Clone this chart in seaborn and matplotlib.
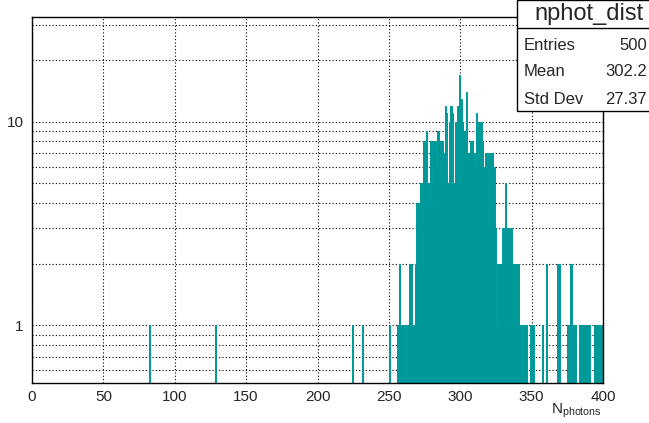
import matplotlib
matplotlib.use("Agg")
import matplotlib.pyplot as plt
import matplotlib.ticker as mticker
from matplotlib.patches import Rectangle
import numpy as np
import seaborn as sns

# lower edge of each non-empty 1-photon bin and its count
bin_lo = [82, 128, 224, 231, 250,
          256, 257, 258, 259, 260, 262, 263, 264, 265, 266, 267, 268,
          269, 270, 271, 272, 273,
          274, 275, 276, 277, 278, 279, 280, 281, 282, 283, 284, 285, 286, 287, 288, 289, 290, 291, 292,
          293, 294, 295, 296, 297, 298, 299, 300, 301, 302, 303, 304, 305, 306, 307, 308, 309, 310,
          311, 312, 313, 314, 315, 316, 317, 318, 319, 320, 321,
          322, 323, 324, 325, 326, 327, 328, 329, 330, 331, 332, 333, 334, 335,
          336, 337, 338, 339, 340, 341, 342, 344, 345, 346, 349, 350, 351, 357, 360, 368, 369,
          375, 376, 377, 378, 379, 380, 383, 384, 385, 386, 387, 388, 389, 390,
          394, 395, 396, 397, 398, 399]
counts = [1, 1, 1, 1, 1,
          1, 2, 1, 1, 1, 1, 1, 2, 2, 1, 1, 2,
          4, 4, 4, 5, 4,
          8, 8, 9, 5, 4, 8, 5, 8, 8, 6, 9, 8, 8, 8, 7, 12, 11, 5, 10,
          12, 11, 5, 10, 10, 12, 17, 13, 10, 9, 9, 14, 7, 7, 8, 8, 7, 6,
          11, 10, 8, 10, 8, 6, 7, 7, 7, 7, 7,
          7, 6, 3, 1, 2, 2, 2, 3, 3, 5, 3, 3, 3, 3,
          2, 2, 2, 1, 2, 1, 1, 1, 1, 1, 1, 1, 1, 1, 2, 2, 2,
          1, 1, 2, 1, 1, 1, 1, 1, 1, 1, 1, 1, 1, 1,
          1, 1, 1, 1, 1, 1]

hist_name = "nphot_dist"
stats_labels = ["Entries", "Mean", "Std Dev"]
stats_values = ["500", "302.2", "27.37"]

teal = "#009999"

sns.set_style("white")
plt.rcParams['font.family'] = ['Liberation Sans', 'DejaVu Sans']
plt.rcParams['mathtext.default'] = 'regular'

fig = plt.figure(figsize=(6.49, 4.23), dpi=100)
ax = fig.add_axes([32 / 649, 40 / 423, 571 / 649, 366 / 423])

centers = np.array(bin_lo) + 0.5
sns.histplot(x=centers, weights=counts, bins=400, binrange=(0, 400),
             color=teal, alpha=1, edgecolor=teal, linewidth=0.7, ax=ax, zorder=3)

ax.set_yscale('log')
ax.set_xlim(0, 400)
ax.set_ylim(0.52, 32.7)
ax.set_xlabel("")
ax.set_ylabel("")

# ticks, ROOT-style
ax.xaxis.set_major_locator(mticker.MultipleLocator(50))
ax.xaxis.set_minor_locator(mticker.MultipleLocator(10))
ax.yaxis.set_major_locator(mticker.FixedLocator([1, 10]))
ax.yaxis.set_major_formatter(mticker.FixedFormatter(["1", "10"]))
minor_y = [0.6, 0.7, 0.8, 0.9, 2, 3, 4, 5, 6, 7, 8, 9, 20, 30]
ax.yaxis.set_minor_locator(mticker.FixedLocator(minor_y))
ax.yaxis.set_minor_formatter(mticker.NullFormatter())
ax.tick_params(axis='x', which='major', direction='in', length=8.5, width=1, labelsize=11, pad=5)
ax.tick_params(axis='x', which='minor', direction='in', length=4.3, width=1)
ax.tick_params(axis='y', which='major', direction='in', length=13, width=1, labelsize=11, pad=6)
ax.tick_params(axis='y', which='minor', direction='in', length=6, width=1)
ax.tick_params(top=False, right=False, which='both')

# dotted grid at every tick
ax.set_axisbelow(True)
ax.grid(True, which='major', axis='x', color='black', linestyle=(0, (1, 2)), linewidth=0.8)
ax.grid(True, which='both', axis='y', color='black', linestyle=(0, (1, 2)), linewidth=0.8)

for s in ax.spines.values():
    s.set_color('black')
    s.set_linewidth(1)
    s.set_zorder(5)

fig.text(602 / 649, 1 - 411 / 423, r"N$_{photons}$", ha='right', va='center', fontsize=11)

# stats box
bx0, bx1 = 517 / 649, 1.02
by0, by1 = 1 - 111 / 423, 1.0
fig.add_artist(Rectangle((bx0, by0), bx1 - bx0, by1 - by0, transform=fig.transFigure,
                         facecolor='white', edgecolor='black', linewidth=1, zorder=10))
fig.add_artist(plt.Line2D([bx0, 1], [1 - 28 / 423] * 2, transform=fig.transFigure,
                          color='black', linewidth=1, zorder=11))
fig.text(589 / 649, 1 - 14 / 423, hist_name, ha='center', va='center', fontsize=17, zorder=12)
for i, (lab, val) in enumerate(zip(stats_labels, stats_values)):
    yy = 1 - (45 + 27 * i) / 423
    fig.text(524 / 649, yy, lab, ha='left', va='center', fontsize=12, zorder=12)
    fig.text(647 / 649, yy, val, ha='right', va='center', fontsize=12, zorder=12)

fig.savefig("out.png", dpi=100, facecolor='white')
